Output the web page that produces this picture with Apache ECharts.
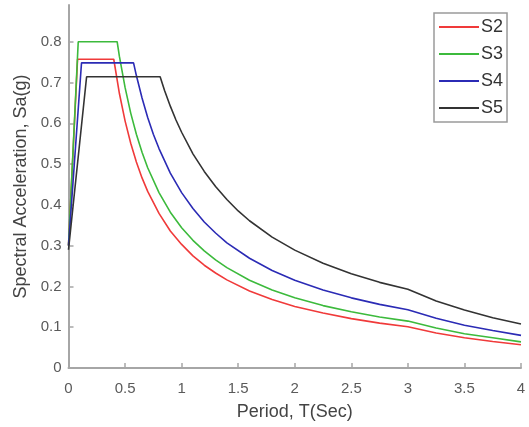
<!DOCTYPE html>
<html>
<head>
<meta charset="utf-8">
<script src="https://cdn.jsdelivr.net/npm/echarts@6/dist/echarts.min.js"></script>
<style>html,body{margin:0;padding:0;background:#fff;}#c{width:529px;height:427px;}</style>
</head>
<body>
<div id="c"></div>
<script>
var seriesNames = ['S2', 'S3', 'S4', 'S5'];
var xTicks = [0, 0.5, 1, 1.5, 2, 2.5, 3, 3.5, 4];
var yTicks = [0, 0.1, 0.2, 0.3, 0.4, 0.5, 0.6, 0.7, 0.8];

var s2T  = [0, 0.08, 0.40, 0.45, 0.5, 0.55, 0.6, 0.65, 0.7, 0.8, 0.9, 1.0, 1.1, 1.2, 1.3, 1.4, 1.6, 1.8, 2.0, 2.25, 2.5, 2.75, 3.0, 3.25, 3.5, 3.75, 4.0];
var s2Sa = [0.30, 0.757, 0.757, 0.673, 0.606, 0.551, 0.505, 0.466, 0.433, 0.379, 0.336, 0.303, 0.275, 0.252, 0.233, 0.216, 0.189, 0.168, 0.151, 0.135, 0.121, 0.110, 0.101, 0.086, 0.074, 0.065, 0.057];

var s3T  = [0, 0.086, 0.43, 0.45, 0.5, 0.55, 0.6, 0.65, 0.7, 0.8, 0.9, 1.0, 1.1, 1.2, 1.3, 1.4, 1.6, 1.8, 2.0, 2.25, 2.5, 2.75, 3.0, 3.25, 3.5, 3.75, 4.0];
var s3Sa = [0.30, 0.80, 0.80, 0.764, 0.688, 0.625, 0.573, 0.529, 0.491, 0.430, 0.382, 0.344, 0.313, 0.287, 0.265, 0.246, 0.215, 0.191, 0.172, 0.153, 0.138, 0.125, 0.115, 0.098, 0.084, 0.074, 0.064];

var s4T  = [0, 0.115, 0.575, 0.6, 0.65, 0.7, 0.75, 0.8, 0.9, 1.0, 1.1, 1.2, 1.3, 1.4, 1.6, 1.8, 2.0, 2.25, 2.5, 2.75, 3.0, 3.25, 3.5, 3.75, 4.0];
var s4Sa = [0.30, 0.748, 0.748, 0.717, 0.662, 0.614, 0.573, 0.538, 0.478, 0.430, 0.391, 0.358, 0.331, 0.307, 0.269, 0.239, 0.215, 0.191, 0.172, 0.156, 0.143, 0.122, 0.105, 0.092, 0.080];

var s5T  = [0, 0.16, 0.81, 0.85, 0.9, 0.95, 1.0, 1.1, 1.2, 1.3, 1.4, 1.5, 1.6, 1.8, 2.0, 2.25, 2.5, 2.75, 3.0, 3.25, 3.5, 3.75, 4.0];
var s5Sa = [0.29, 0.714, 0.714, 0.680, 0.642, 0.608, 0.578, 0.525, 0.482, 0.445, 0.413, 0.385, 0.361, 0.321, 0.289, 0.257, 0.231, 0.210, 0.193, 0.164, 0.142, 0.123, 0.108];

var colors = ['#f03a3a', '#3cba3c', '#2b2bb5', '#333333'];
var periods = [s2T, s3T, s4T, s5T];
var values = [s2Sa, s3Sa, s4Sa, s5Sa];

function pairs(t, v) { return t.map(function (x, i) { return [x, v[i]]; }); }

var FONT = '"Liberation Sans", Arial, sans-serif';
var chart = echarts.init(document.getElementById('c'), null, { renderer: 'canvas' });
chart.setOption({
  animation: false,
  backgroundColor: '#ffffff',
  grid: { left: 68.5, right: 8, top: 5, bottom: 59, containLabel: false },
  legend: {
    left: 434, top: 13,
    orient: 'vertical',
    data: seriesNames.map(function (n) { return { name: n, icon: 'rect' }; }),
    itemWidth: 40, itemHeight: 2, itemGap: 9,
    padding: [5, 4, 5, 5],
    borderColor: '#9a9a9a', borderWidth: 1.5, backgroundColor: '#ffffff',
    textStyle: { fontFamily: FONT, fontSize: 18, color: '#333', padding: [0, 0, 0, -3] }
  },
  xAxis: {
    type: 'value', min: 0, max: 4, interval: 0.5,
    name: 'Period, T(Sec)', nameLocation: 'middle', nameGap: 35,
    nameTextStyle: { fontFamily: FONT, fontSize: 18, color: '#444' },
    axisLine: { show: true, lineStyle: { color: '#a6a6a6', width: 2 } },
    axisTick: { show: true, inside: true, length: 5, lineStyle: { color: '#a6a6a6', width: 1.5 } },
    axisLabel: { fontFamily: FONT, fontSize: 15, color: '#5a5a5a', margin: 13,
      formatter: function (v) { return xTicks.indexOf(v) >= 0 ? String(v) : ''; } },
    splitLine: { show: false }
  },
  yAxis: {
    type: 'value', min: 0, max: 0.89, interval: 0.1,
    name: 'Spectral Acceleration, Sa(g)', nameLocation: 'middle', nameGap: 35,
    nameTextStyle: { fontFamily: FONT, fontSize: 18, color: '#444' },
    axisLine: { show: true, lineStyle: { color: '#a6a6a6', width: 2 } },
    axisTick: { show: true, inside: true, length: 5, lineStyle: { color: '#a6a6a6', width: 1.5 } },
    axisLabel: { fontFamily: FONT, fontSize: 15, color: '#5a5a5a', margin: 7, showMaxLabel: false,
      formatter: function (v) {
        var r = Math.round(v * 10) / 10;
        return (Math.abs(r - v) < 1e-6 && yTicks.indexOf(r) >= 0) ? String(r) : '';
      } },
    splitLine: { show: false }
  },
  series: seriesNames.map(function (n, i) {
    return {
      name: n, type: 'line', symbol: 'none', showSymbol: false,
      data: pairs(periods[i], values[i]),
      lineStyle: { color: colors[i], width: 1.6 },
      itemStyle: { color: colors[i] },
      z: 2 + i
    };
  })
});
</script>
</body>
</html>
